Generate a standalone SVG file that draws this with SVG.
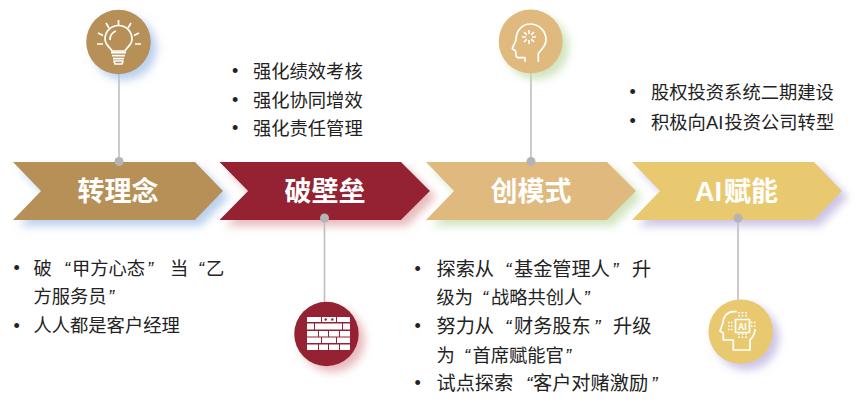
<svg xmlns="http://www.w3.org/2000/svg" width="865" height="419" viewBox="0 0 865 419">
<defs>
<filter id="shB" x="-20%" y="-30%" width="150%" height="180%"><feDropShadow dx="6" dy="6" stdDeviation="4" flood-color="#a9c4e8" flood-opacity="0.8"/></filter>
<filter id="shR" x="-20%" y="-30%" width="150%" height="180%"><feDropShadow dx="6" dy="6" stdDeviation="4" flood-color="#e3a9ac" flood-opacity="0.8"/></filter>
<filter id="shG" x="-20%" y="-30%" width="150%" height="180%"><feDropShadow dx="6" dy="6" stdDeviation="4" flood-color="#c5deb0" flood-opacity="0.8"/></filter>
<filter id="shP" x="-20%" y="-30%" width="150%" height="180%"><feDropShadow dx="6" dy="6" stdDeviation="4" flood-color="#c0b6e0" flood-opacity="0.8"/></filter>
</defs>
<style>
text{font-family:"Noto Sans CJK SC","Liberation Sans",sans-serif}
.t{font-size:27px;font-weight:700;fill:#fff;text-anchor:middle}
.b{font-size:18.3px;fill:#222}
.b3{font-size:19.2px;fill:#222}
.bu{font-family:"Liberation Sans",sans-serif;font-size:18px;fill:#222}
.q{font-family:"Liberation Sans",sans-serif;font-style:italic}
.la{font-family:"Liberation Sans",sans-serif}
.ln{stroke:#bfbfbf;stroke-width:1.6;fill:none}
.dot{fill:#b4b4b4}
.ic{fill:none;stroke:#fff;stroke-width:1.7;stroke-linecap:butt;stroke-linejoin:round}
.ifill{fill:#fff}
</style>
<g id="arrow1"><polygon points="13,162 195,162 223,191 195,220 13,220 41,191" fill="#b79058" filter="url(#shB)"/><text class="t" x="118" y="201">转理念</text></g>
<g id="arrow2"><polygon points="219.500,162 401,162 430,191 401,220 219.500,220 248,191" fill="#942432" filter="url(#shR)"/><text class="t" x="325" y="201">破壁垒</text></g>
<g id="arrow3"><polygon points="426,162 607,162 636,191 607,220 426,220 454,191" fill="#e0b97f" filter="url(#shG)"/><text class="t" x="531" y="201">创模式</text></g>
<g id="arrow4"><polygon points="632,162 814,162 842,191 814,220 632,220 660,191" fill="#e9c970" filter="url(#shP)"/><text class="t" style="text-anchor:start" x="695" y="201"><tspan class="la">AI</tspan><tspan x="724">赋能</tspan></text></g>
<g id="connectors">
<line class="ln" x1="119" y1="70" x2="119" y2="161.500"/><circle class="dot" cx="119" cy="161.500" r="4.500"/>
<line class="ln" x1="324.500" y1="218" x2="324.500" y2="305"/><circle class="dot" cx="324.500" cy="218" r="4.500"/>
<line class="ln" x1="531" y1="70" x2="531" y2="161.500"/><circle class="dot" cx="531" cy="161.500" r="4.500"/>
<line class="ln" x1="738" y1="218" x2="738" y2="305"/><circle class="dot" cx="738" cy="218" r="4.500"/>
</g>
<g id="icon1">
<circle cx="118.500" cy="42" r="32.300" fill="#b79058" filter="url(#shB)"/>
<path class="ic" d="M112,51 C110,47 105,45 105,39 A13.500,13.500 0 1 1 132,39 C132,45 127,47 125,51 Z"/>
<path class="ic" d="M110,40 A8.500,8.500 0 0 1 116,31"/>
<path class="ic" d="M111,52.700H126M112,55.700H125M113,58.700H124M114,61H123L122,64H115Z"/>
<path class="ic" d="M118.500,20V26M106,23L109,28M131,23L128,28M98,33L103,35.500M139,33L134,35.500M97,44H103M135,44H141"/>
</g>
<g id="icon2">
<circle cx="326.500" cy="334" r="32.300" fill="#942432" filter="url(#shR)"/>
<g class="ifill">
<rect x="307" y="317" width="14" height="5"/><rect x="322" y="317" width="14" height="5"/><rect x="337" y="317" width="13" height="5"/>
<rect x="307" y="323.500" width="7" height="6"/><rect x="315" y="323.500" width="27" height="6"/><rect x="343" y="323.500" width="7" height="6"/>
<rect x="307" y="331" width="11" height="5.500"/><rect x="319" y="331" width="9" height="5.500"/><rect x="329" y="331" width="10" height="5.500"/><rect x="340" y="331" width="10" height="5.500"/>
<rect x="307" y="337.500" width="14" height="5.500"/><rect x="322" y="337.500" width="14" height="5.500"/><rect x="337" y="337.500" width="13" height="5.500"/>
<rect x="307" y="344.500" width="11" height="5.500"/><rect x="319" y="344.500" width="9" height="5.500"/><rect x="329" y="344.500" width="10" height="5.500"/><rect x="340" y="344.500" width="10" height="5.500"/>
</g>
<circle cx="325.700" cy="319.500" r="1.200" fill="#942432"/><circle cx="332.300" cy="319.500" r="1.200" fill="#942432"/>
</g>
<g id="icon3">
<circle cx="530.700" cy="41.500" r="32" fill="#e0b97f" filter="url(#shG)"/>
<path class="ic" d="M525,61.700V57.700H518C515.500,57.700 516,54 515.700,51.700C515.500,49.500 512,49.500 512.300,48.300L516,40C516,31 522,24 530,24C539,24 546,31 546,40C546,46 541,50 538.300,53.300V61.700"/>
<path class="ic" d="M529,30V34M529,40V44M522,37H526M532,37H536M524,32L526.800,34.800M534,32L531.200,34.800M524,42L526.800,39.200M534,42L531.200,39.200"/>
</g>
<g id="icon4">
<circle cx="740.700" cy="331.700" r="32.300" fill="#e9c970" filter="url(#shP)"/>
<path class="ic" d="M736.700,311.700H733C727,312 723,317 723,322.500L720,331L723.300,333V340H733.300V350H750V340C753,337 755,334 755,329"/>
<rect class="ic" x="735.500" y="319.500" width="14" height="13"/>
<text x="742.500" y="329.500" font-size="9" font-weight="700" fill="#fff" text-anchor="middle">AI</text>
<path class="ic" stroke-width="1.400" stroke-dasharray="1.500 1.500" d="M739,312V318M742.500,312V318M746,312V318M739,333.500V339M742.500,333.500V339M746,333.500V339M728,322.500H734M728,326H734M728,329.500H734M751,322.500H757M751,326H757"/>
</g>
<g id="notes1">
<text class="bu" x="13.500" y="274">•</text>
<text class="b" y="275"><tspan x="33.500">破</tspan><tspan class="q" x="64">“</tspan><tspan x="72">甲方心态</tspan><tspan class="q" x="147">”</tspan><tspan x="170">当</tspan><tspan class="q" x="198">“</tspan><tspan x="206">乙</tspan></text>
<text class="b" y="303"><tspan x="33.500">方服务员</tspan><tspan class="q" x="108">”</tspan></text>
<text class="bu" x="13.500" y="332">•</text><text class="b" x="33.500" y="332">人人都是客户经理</text>
</g>
<g id="notes2">
<text class="bu" x="232" y="77">•</text><text class="b" x="253" y="78">强化绩效考核</text>
<text class="bu" x="232" y="106">•</text><text class="b" x="253" y="106.500">强化协同增效</text>
<text class="bu" x="232" y="134">•</text><text class="b" x="253" y="134.500">强化责任管理</text>
</g>
<g id="notes3">
<text class="bu" x="414.500" y="275">•</text>
<text class="b3" y="276"><tspan x="436.500">探索从</tspan><tspan class="q" x="505">“</tspan><tspan x="514">基金管理人</tspan><tspan class="q" x="612">”</tspan><tspan x="632">升</tspan></text>
<text class="b" y="304"><tspan x="436.500">级为</tspan><tspan class="q" x="482">“</tspan><tspan x="491">战略共创人</tspan><tspan class="q" x="583.500">”</tspan></text>
<text class="bu" x="414.500" y="332">•</text>
<text class="b3" y="333"><tspan x="436.500">努力从</tspan><tspan class="q" x="505">“</tspan><tspan x="514">财务股东</tspan><tspan class="q" x="594">”</tspan><tspan x="613">升级</tspan></text>
<text class="b" y="361.500"><tspan x="436.500">为</tspan><tspan class="q" x="464">“</tspan><tspan x="472.500">首席赋能官</tspan><tspan class="q" x="565">”</tspan></text>
<text class="bu" x="414.500" y="389">•</text>
<text class="b3" y="390"><tspan x="436.500">试点探索</tspan><tspan class="q" x="526">“</tspan><tspan x="533">客户对赌激励</tspan><tspan class="q" x="651">”</tspan></text>
</g>
<g id="notes4">
<text class="bu" x="629.500" y="98">•</text><text class="b" x="651" y="99">股权投资系统二期建设</text>
<text class="bu" x="629.500" y="127">•</text><text class="b" y="128.500"><tspan x="651">积极向</tspan><tspan class="la" x="706">AI</tspan><tspan x="724.500">投资公司转型</tspan></text>
</g>
</svg>
